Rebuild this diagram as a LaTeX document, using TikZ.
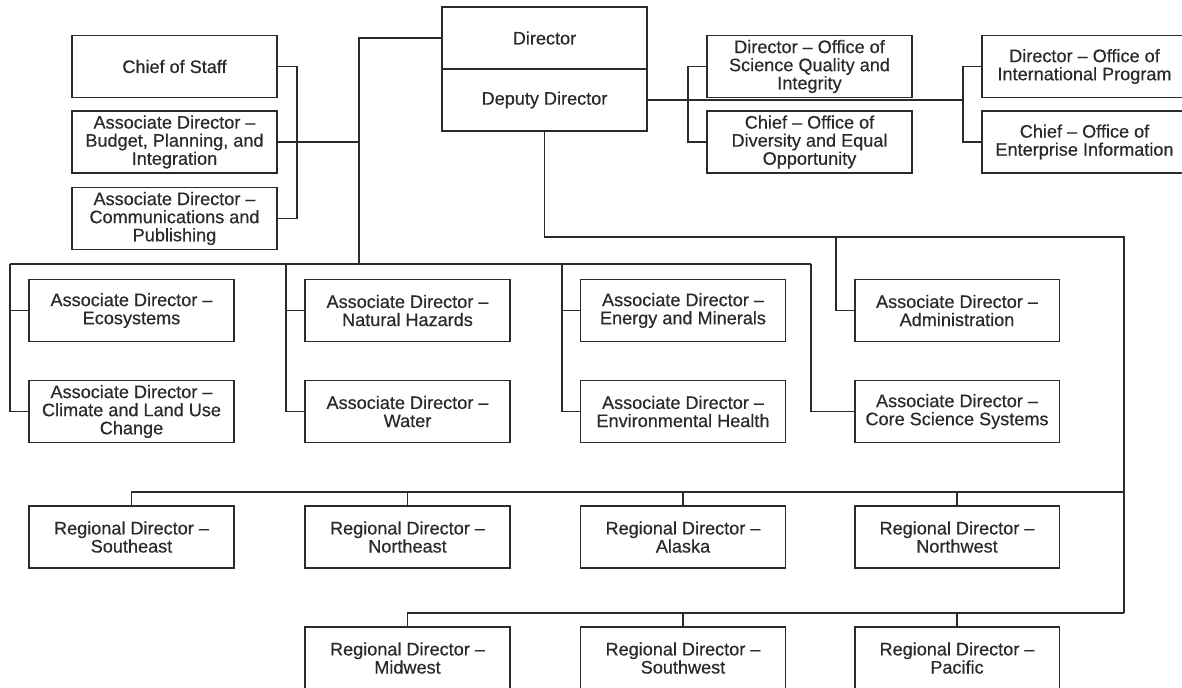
\documentclass[tikz,border=0pt]{standalone}
\usepackage{fontspec}
\setmainfont{Liberation Sans}[FakeBold=0.5]
\usepackage{tikz}
\usetikzlibrary{positioning,calc}
\definecolor{ink}{HTML}{2A2A2A}

\begin{document}
\begin{tikzpicture}[
  x=0.02cm, y=-0.02cm,
  box/.style={draw=ink, line width=1.1pt, minimum width=4.1cm, minimum height=1.24cm,
              inner sep=1pt, font=\fontsize{10.3}{10.3}\selectfont, align=center, text=ink},
  wire/.style={draw=ink, line width=1.1pt},
]
\useasboundingbox (0,0) rectangle (1182,687);

% Director's office
\node[box] (dir) at (544.5,38) {Director};
\node[box] (dep) at (544.5,100) {Deputy Director};

% Staff offices (left)
\node[box] (cos) at (174.5,66.5) {Chief of Staff};
\node[box] (bpi) at (174.5,142) {Associate Director \textendash\\Budget, Planning, and\\Integration};
\node[box] (cpub) at (174.5,218.5) {Associate Director \textendash\\Communications and\\Publishing};

% Offices (right)
\node[box] (sqi) at (809.5,66.5) {Director \textendash\ Office of\\Science Quality and\\Integrity};
\node[box] (deo) at (809.5,142) {Chief \textendash\ Office of\\Diversity and Equal\\Opportunity};
\node[box] (oip) at (1084.5,66.5) {Director \textendash\ Office of\\International Program};
\node[box] (oei) at (1084.5,142) {Chief \textendash\ Office of\\Enterprise Information};

% Associate directors
\foreach \n/\x/\y/\txt in {eco/131.5/310.5/Ecosystems,
    clim/131.5/411.5/Climate and Land Use\\Change,
    nh/407.5/310.5/Natural Hazards, wat/407.5/411.5/Water,
    em/683/310.5/Energy and Minerals, eh/683/411.5/Environmental Health,
    adm/957/310.5/Administration, css/957/411.5/Core Science Systems} {
  \node[box] (\n) at (\x,\y) {Associate Director \textendash\\\txt};
}

% Regional directors
\foreach \n/\x/\y/\txt in {se/131.5/537/Southeast, ne/407.5/537/Northeast,
    ak/683/537/Alaska, nw/957/537/Northwest,
    mw/407.5/658/Midwest, sw/683/658/Southwest, pac/957/658/Pacific} {
  \node[box] (\n) at (\x,\y) {Regional Director \textendash\\\txt};
}

% Junctions
\coordinate (sbr) at (297,142);
\coordinate (trunk) at (359,264);
\coordinate (lbr) at (688,100);
\coordinate (rbr) at (963,100);
\coordinate (busL) at (10,264);
\coordinate (busB) at (286,264);
\coordinate (busC) at (562,264);
\coordinate (busR) at (811,264);
\coordinate (east1) at (1124,237);
\coordinate (east2) at (1124,613);
\coordinate (admtap) at (836,237);
\coordinate (reg1) at (1124,492);

% Top connectors
\draw[wire] (cos.east) -| (sbr) |- (cpub.east);
\draw[wire] (bpi.east) -- (bpi.east -| trunk);
\draw[wire] (dir.west) -| (trunk);
\draw[wire] (dep.east) -- (rbr);
\draw[wire] (sqi.west) -| (lbr) |- (deo.west);
\draw[wire] (oip.west) -| (rbr) |- (oei.west);

% Associate bus
\draw[wire] (busL) -- (busR);
\draw[wire] (busL) |- (clim.west);
\draw[wire] (eco.west) -- (eco.west -| busL);
\draw[wire] (busB) |- (wat.west);
\draw[wire] (nh.west) -- (nh.west -| busB);
\draw[wire] (busC) |- (eh.west);
\draw[wire] (em.west) -- (em.west -| busC);
\draw[wire] (busR) |- (css.west);

% Deputy line to the regions
\draw[wire] (dep.south) |- (east1) -- (east2);
\draw[wire] (admtap) |- (adm.west);
\draw[wire] (se.north) |- (reg1);
\foreach \n in {ne,ak,nw} {
  \draw[wire] (\n.north) -- (\n.north |- reg1);
}
\draw[wire] (mw.north) |- (east2);
\foreach \n in {sw,pac} {
  \draw[wire] (\n.north) -- (\n.north |- east2);
}
\end{tikzpicture}
\end{document}
